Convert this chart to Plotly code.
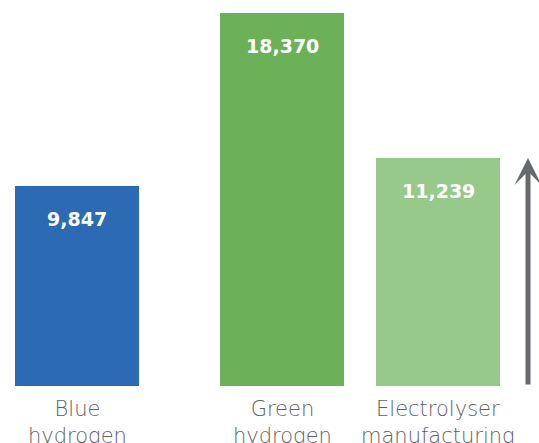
import plotly.graph_objects as go

# Jobs supported by each hydrogen pathway
categories = ["Blue\nhydrogen", "Green\nhydrogen", "Electrolyser\nmanufacturing"]
jobs = [9847, 18370, 11239]
value_labels = ["9,847", "18,370", "11,239"]
bar_colors = ["#2C6BB3", "#6CB157", "#96C98A"]

# Horizontal layout (pixel-based x axis)
bar_centers = [77, 282, 438]
bar_width = 124
arrow_x = 528

fig = go.Figure()
fig.add_trace(go.Bar(
    x=bar_centers,
    y=jobs,
    width=bar_width,
    marker=dict(color=bar_colors, line=dict(width=0)),
    hoverinfo="skip",
))

annotations = []
for xc, v, lab in zip(bar_centers, jobs, value_labels):
    annotations.append(dict(
        x=xc, y=v, xref="x", yref="y", text=lab, showarrow=False,
        yanchor="middle", yshift=-33,
        font=dict(family="DejaVu Sans", size=19, color="white", weight="bold"),
    ))
for xc, cat in zip(bar_centers, categories):
    annotations.append(dict(
        x=xc, y=0, xref="x", yref="paper", text=cat.replace("\n", "<br>"),
        showarrow=False, yanchor="top", yshift=-9,
        font=dict(family="DejaVu Sans", size=21, color="#5E6063", weight=300),
    ))
# Upward arrow rising to the electrolyser level
annotations.append(dict(
    x=arrow_x, y=jobs[2], xref="x", yref="y",
    ax=arrow_x, ay=0, axref="x", ayref="y",
    showarrow=True, arrowhead=3, arrowsize=0.9, arrowwidth=5,
    arrowcolor="#66696B", text="",
))

fig.update_layout(
    width=539, height=443,
    margin=dict(l=0, r=0, t=0, b=57),
    paper_bgcolor="white", plot_bgcolor="white",
    showlegend=False,
    bargap=0,
    xaxis=dict(range=[0, 539], visible=False, fixedrange=True),
    yaxis=dict(range=[0, 19020], visible=False, fixedrange=True),
    annotations=annotations,
)

fig.write_html("out.html")
